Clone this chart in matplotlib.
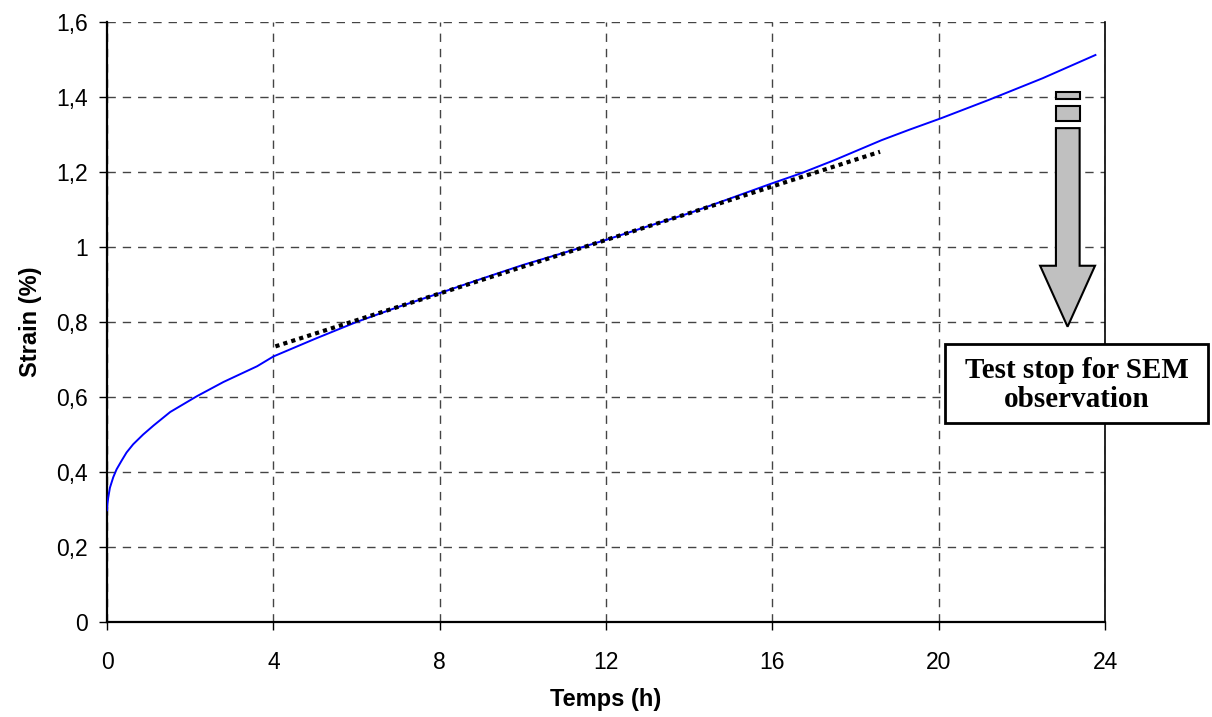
#
# Creep curve: strain vs time, with linear fit and SEM stop marker
#
import matplotlib
matplotlib.use("Agg")
import matplotlib.pyplot as plt
from matplotlib.patches import Rectangle, Polygon

temps = [0, 0.01, 0.03, 0.07, 0.15, 0.23, 0.35, 0.47, 0.63, 0.87, 1.12, 1.52,
         2.16, 2.80, 3.61, 4.0, 5, 6, 7, 8, 9, 10, 11, 12, 13, 14, 15, 16,
         16.7, 17.5, 18.63, 19.3, 20.05, 21.2, 22.5, 23.77]
strain = [0.298, 0.315, 0.332, 0.358, 0.386, 0.407, 0.430, 0.452, 0.474, 0.500,
          0.524, 0.560, 0.602, 0.640, 0.682, 0.708, 0.755, 0.80, 0.84, 0.877,
          0.915, 0.952, 0.985, 1.019, 1.055, 1.09, 1.13, 1.17, 1.197, 1.232,
          1.285, 1.313, 1.343, 1.392, 1.45, 1.512]

# linear (secondary creep) fit
fit_t = [4.05, 18.59]
fit_strain = [0.735, 1.254]

xticks = [0, 4, 8, 12, 16, 20, 24]
yticks = [0, 0.2, 0.4, 0.6, 0.8, 1.0, 1.2, 1.4, 1.6]
ytick_labels = ["0", "0,2", "0,4", "0,6", "0,8", "1", "1,2", "1,4", "1,6"]

plt.rcParams['font.family'] = ['Liberation Sans', 'DejaVu Sans']

fig = plt.figure(figsize=(12.12, 7.17), dpi=100)
ax = fig.add_axes([107 / 1212, 1 - 622 / 717, 998 / 1212, 600 / 717])

ax.plot(temps, strain, color='#0000ff', lw=1.4, zorder=3)
ax.plot(fit_t, fit_strain, color='black', lw=3, linestyle=(0, (1, 1)), zorder=4)

ax.set_xlim(0, 24)
ax.set_ylim(0, 1.6)
ax.set_xticks(xticks)
ax.set_yticks(yticks)
ax.set_yticklabels(ytick_labels)
ax.tick_params(axis='both', labelsize=16.5, direction='out', length=6, width=1, color='black')
ax.tick_params(axis='x', pad=15)
ax.tick_params(axis='y', pad=8)

ax.grid(True, color='#444444', linestyle=(0, (6, 5)), lw=1)
ax.set_axisbelow(True)
ax.spines['top'].set_visible(False)
ax.spines['left'].set_linewidth(1.6)
ax.spines['bottom'].set_linewidth(1.6)
ax.spines['right'].set_linewidth(1.2)

ax.set_xlabel("Temps (h)", fontsize=17, fontweight='bold', labelpad=10)
ax.set_ylabel("Strain (%)", fontsize=17, fontweight='bold', labelpad=10)

# block arrow marking the test stop
arrow_kw = dict(facecolor='#c0c0c0', edgecolor='black', lw=1.5, zorder=5, clip_on=False)
ax.add_patch(Rectangle((22.82, 1.395), 0.57, 0.019, **arrow_kw))
ax.add_patch(Rectangle((22.82, 1.336), 0.57, 0.040, **arrow_kw))
ax.add_patch(Polygon([(22.82, 1.317), (23.39, 1.317), (23.39, 0.950), (23.76, 0.950),
                      (23.10, 0.7875), (22.44, 0.950), (22.82, 0.950)], closed=True, **arrow_kw))

# text box
fig.patches.append(Rectangle((945 / 1212, 1 - 423 / 717), 263 / 1212, 79 / 717,
                             transform=fig.transFigure, facecolor='white',
                             edgecolor='black', lw=2, zorder=6))
fig.text(1077 / 1212, 1 - 385 / 717, "Test stop for SEM\nobservation",
         ha='center', va='center', fontsize=21, fontweight='bold',
         family=['Liberation Serif', 'DejaVu Serif'], linespacing=1.1, zorder=7)

fig.savefig("out.png", dpi=100)
